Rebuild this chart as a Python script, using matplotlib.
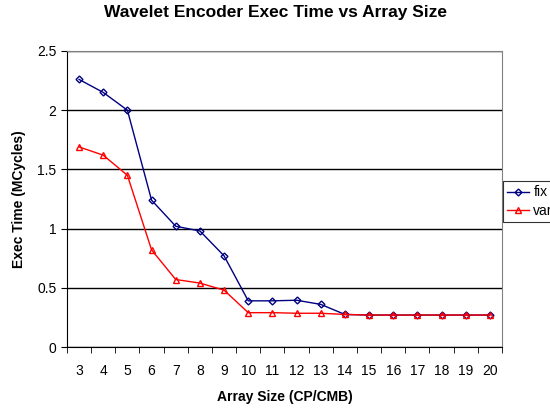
import numpy as np
import matplotlib.pyplot as plt

sizes = [3, 4, 5, 6, 7, 8, 9, 10, 11, 12, 13, 14, 15, 16, 17, 18, 19, 20]
fix = [2.26, 2.15, 2.0, 1.24, 1.02, 0.98, 0.77, 0.39, 0.39, 0.395, 0.36, 0.275,
       0.27, 0.27, 0.27, 0.27, 0.27, 0.27]
var = [1.69, 1.62, 1.45, 0.82, 0.57, 0.54, 0.48, 0.29, 0.29, 0.285, 0.285, 0.275,
       0.27, 0.27, 0.27, 0.27, 0.27, 0.27]

plt.rcParams['font.family'] = ['Liberation Sans', 'DejaVu Sans']
fig = plt.figure(figsize=(5.5, 4.08), dpi=100)
ax = fig.add_axes([0.1218, 0.1495, 0.7909, 0.7255])

ax.plot(sizes, fix, color='#000080', lw=1, marker='D', ms=3.5,
        mfc='none', mec='#000080', mew=1, label='fix')
ax.plot(sizes, var, color='#ff0000', lw=1, marker='^', ms=4.5,
        mfc='none', mec='#ff0000', mew=1, label='var')

ax.set_xlim(2.5, 20.5)
ax.set_ylim(0, 2.5)
ax.set_xticks(sizes)
ax.set_xticklabels([str(s) for s in sizes], fontsize=10)
ax.set_xticks(np.arange(2.5, 21, 1), minor=True)
ax.tick_params(axis='x', which='major', length=0, pad=12)
ax.tick_params(axis='x', which='minor', length=4, direction='out', color='black')
ax.set_yticks([0, 0.5, 1, 1.5, 2, 2.5])
ax.set_yticklabels(['0', '0.5', '1', '1.5', '2', '2.5'], fontsize=10)
ax.tick_params(axis='y', length=4, direction='out')
ax.yaxis.grid(True, color='black', lw=1)
ax.set_axisbelow(True)

for s in ['top', 'right']:
    ax.spines[s].set_color('#808080')
ax.spines['left'].set_color('black')
ax.spines['bottom'].set_color('black')

ax.set_xlabel('Array Size (CP/CMB)', fontsize=10, fontweight='bold', labelpad=9)
ax.set_ylabel('Exec Time (MCycles)', fontsize=10, fontweight='bold', labelpad=8)
fig.suptitle('Wavelet Encoder Exec Time vs Array Size', fontsize=12.5,
             fontweight='bold', y=0.988)

leg = ax.legend(loc='upper left', bbox_to_anchor=(1.002, 0.56), fontsize=10,
                frameon=True, fancybox=False, edgecolor='black',
                handlelength=1.6, handletextpad=0.3, borderpad=0.3,
                labelspacing=0.3, borderaxespad=0)
leg.get_frame().set_linewidth(0.8)

fig.savefig('out.png', dpi=100)
